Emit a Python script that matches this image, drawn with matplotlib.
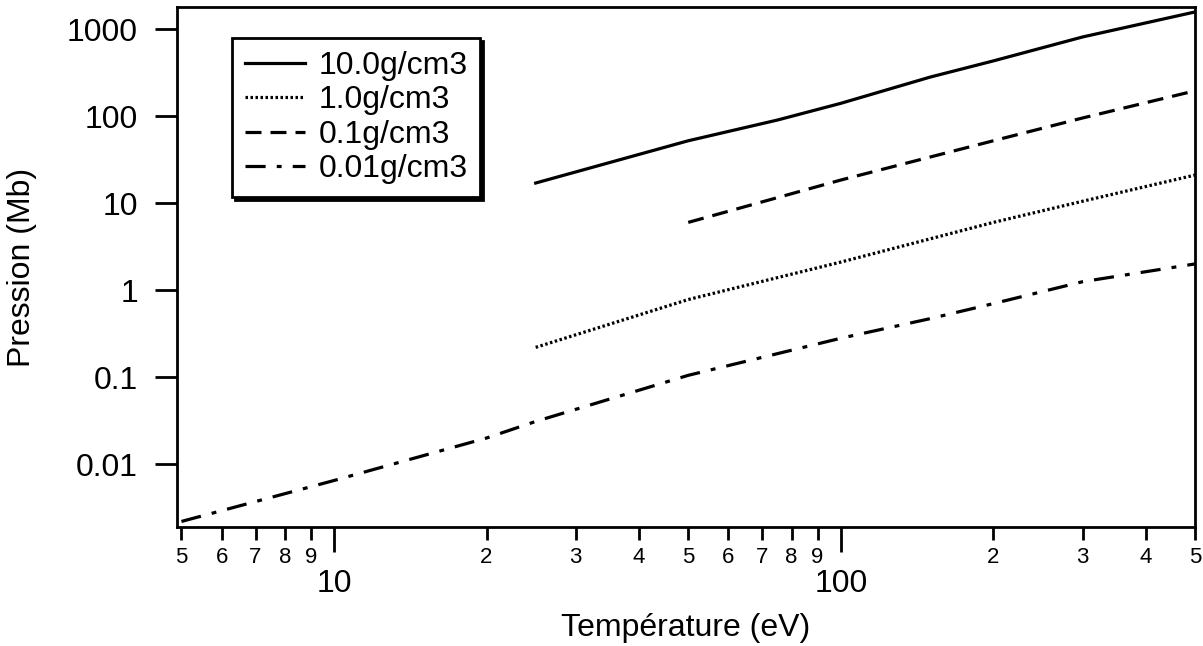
import matplotlib
matplotlib.use("Agg")
import matplotlib.pyplot as plt
from matplotlib.ticker import FixedLocator, FuncFormatter, NullLocator

plt.rcParams['font.family'] = ['Liberation Sans', 'DejaVu Sans']
plt.rcParams['lines.scale_dashes'] = False

# Data
T_10 = [25, 50, 75, 100, 150, 200, 300, 500]
P_10 = [17, 52, 90, 140, 280, 430, 810, 1570]

T_1 = [25, 50, 100, 200, 300, 500]
P_1 = [0.22, 0.78, 2.1, 6.0, 10.5, 21]

T_01 = [50, 100, 200, 300, 500]
P_01 = [6.0, 18.4, 52, 95, 195]

T_001 = [5, 10, 20, 25, 50, 100, 150, 200, 300, 500]
P_001 = [0.0022, 0.0065, 0.020, 0.031, 0.105, 0.28, 0.47, 0.70, 1.25, 2.0]

labels = ["10.0g/cm3", "1.0g/cm3", "0.1g/cm3", "0.01g/cm3"]
y_ticks = [0.01, 0.1, 1, 10, 100, 1000]
x_major = [10, 100]
x_minor = [5, 6, 7, 8, 9, 20, 30, 40, 50, 60, 70, 80, 90, 200, 300, 400, 500]

W, H = 1203, 646
fig = plt.figure(figsize=(W / 100, H / 100), dpi=100)
ax = fig.add_axes([177 / W, 1 - 527 / H, (1195 - 177) / W, (527 - 7) / H])

lw = 2.3
ax.plot(T_10, P_10, color='k', lw=lw, linestyle='-', label=labels[0])
ax.plot(T_1, P_1, color='k', lw=lw, linestyle=(0, (1.8, 1.8)),
        dash_capstyle='butt', label=labels[1])
ax.plot(T_01, P_01, color='k', lw=lw, linestyle=(0, (11.5, 6.5)), label=labels[2])
ax.plot(T_001, P_001, color='k', lw=lw, linestyle=(0, (14.5, 8, 3.5, 8)), label=labels[3])

ax.set_xscale('log')
ax.set_yscale('log')
ax.set_xlim(4.9, 500)
ax.set_ylim(0.0019, 1790)

for s in ax.spines.values():
    s.set_linewidth(2)

fs = 23
ax.yaxis.set_major_locator(FixedLocator(y_ticks))
ax.yaxis.set_minor_locator(NullLocator())
ax.yaxis.set_major_formatter(FuncFormatter(lambda v, p: f"{v:g}"))
ax.tick_params(axis='y', which='major', length=16, width=2, pad=12, labelsize=fs)

ax.xaxis.set_major_locator(FixedLocator(x_major))
ax.xaxis.set_minor_locator(FixedLocator(x_minor))
ax.xaxis.set_major_formatter(FuncFormatter(lambda v, p: f"{v:g}"))
ax.xaxis.set_minor_formatter(FuncFormatter(lambda v, p: f"{v:g}"[0]))
ax.tick_params(axis='x', which='major', length=18, width=2, pad=12, labelsize=fs)
ax.tick_params(axis='x', which='minor', length=9.5, width=2, pad=5, labelsize=16)

ax.set_xlabel("Température (eV)", fontsize=fs, labelpad=10)
ax.set_ylabel("Pression (Mb)", fontsize=fs, labelpad=22)

leg = ax.legend(loc='upper left', bbox_to_anchor=(232 / W, 1 - 38 / H),
                bbox_transform=fig.transFigure, borderaxespad=0,
                fontsize=fs, frameon=True, fancybox=False,
                shadow={'color': 'k', 'alpha': 1},
                handlelength=1.9, handletextpad=0.4, borderpad=0.4,
                labelspacing=0.14)
leg.get_frame().set_edgecolor('k')
leg.get_frame().set_linewidth(2)
leg.get_frame().set_alpha(1)

fig.savefig("out.png", dpi=100)
